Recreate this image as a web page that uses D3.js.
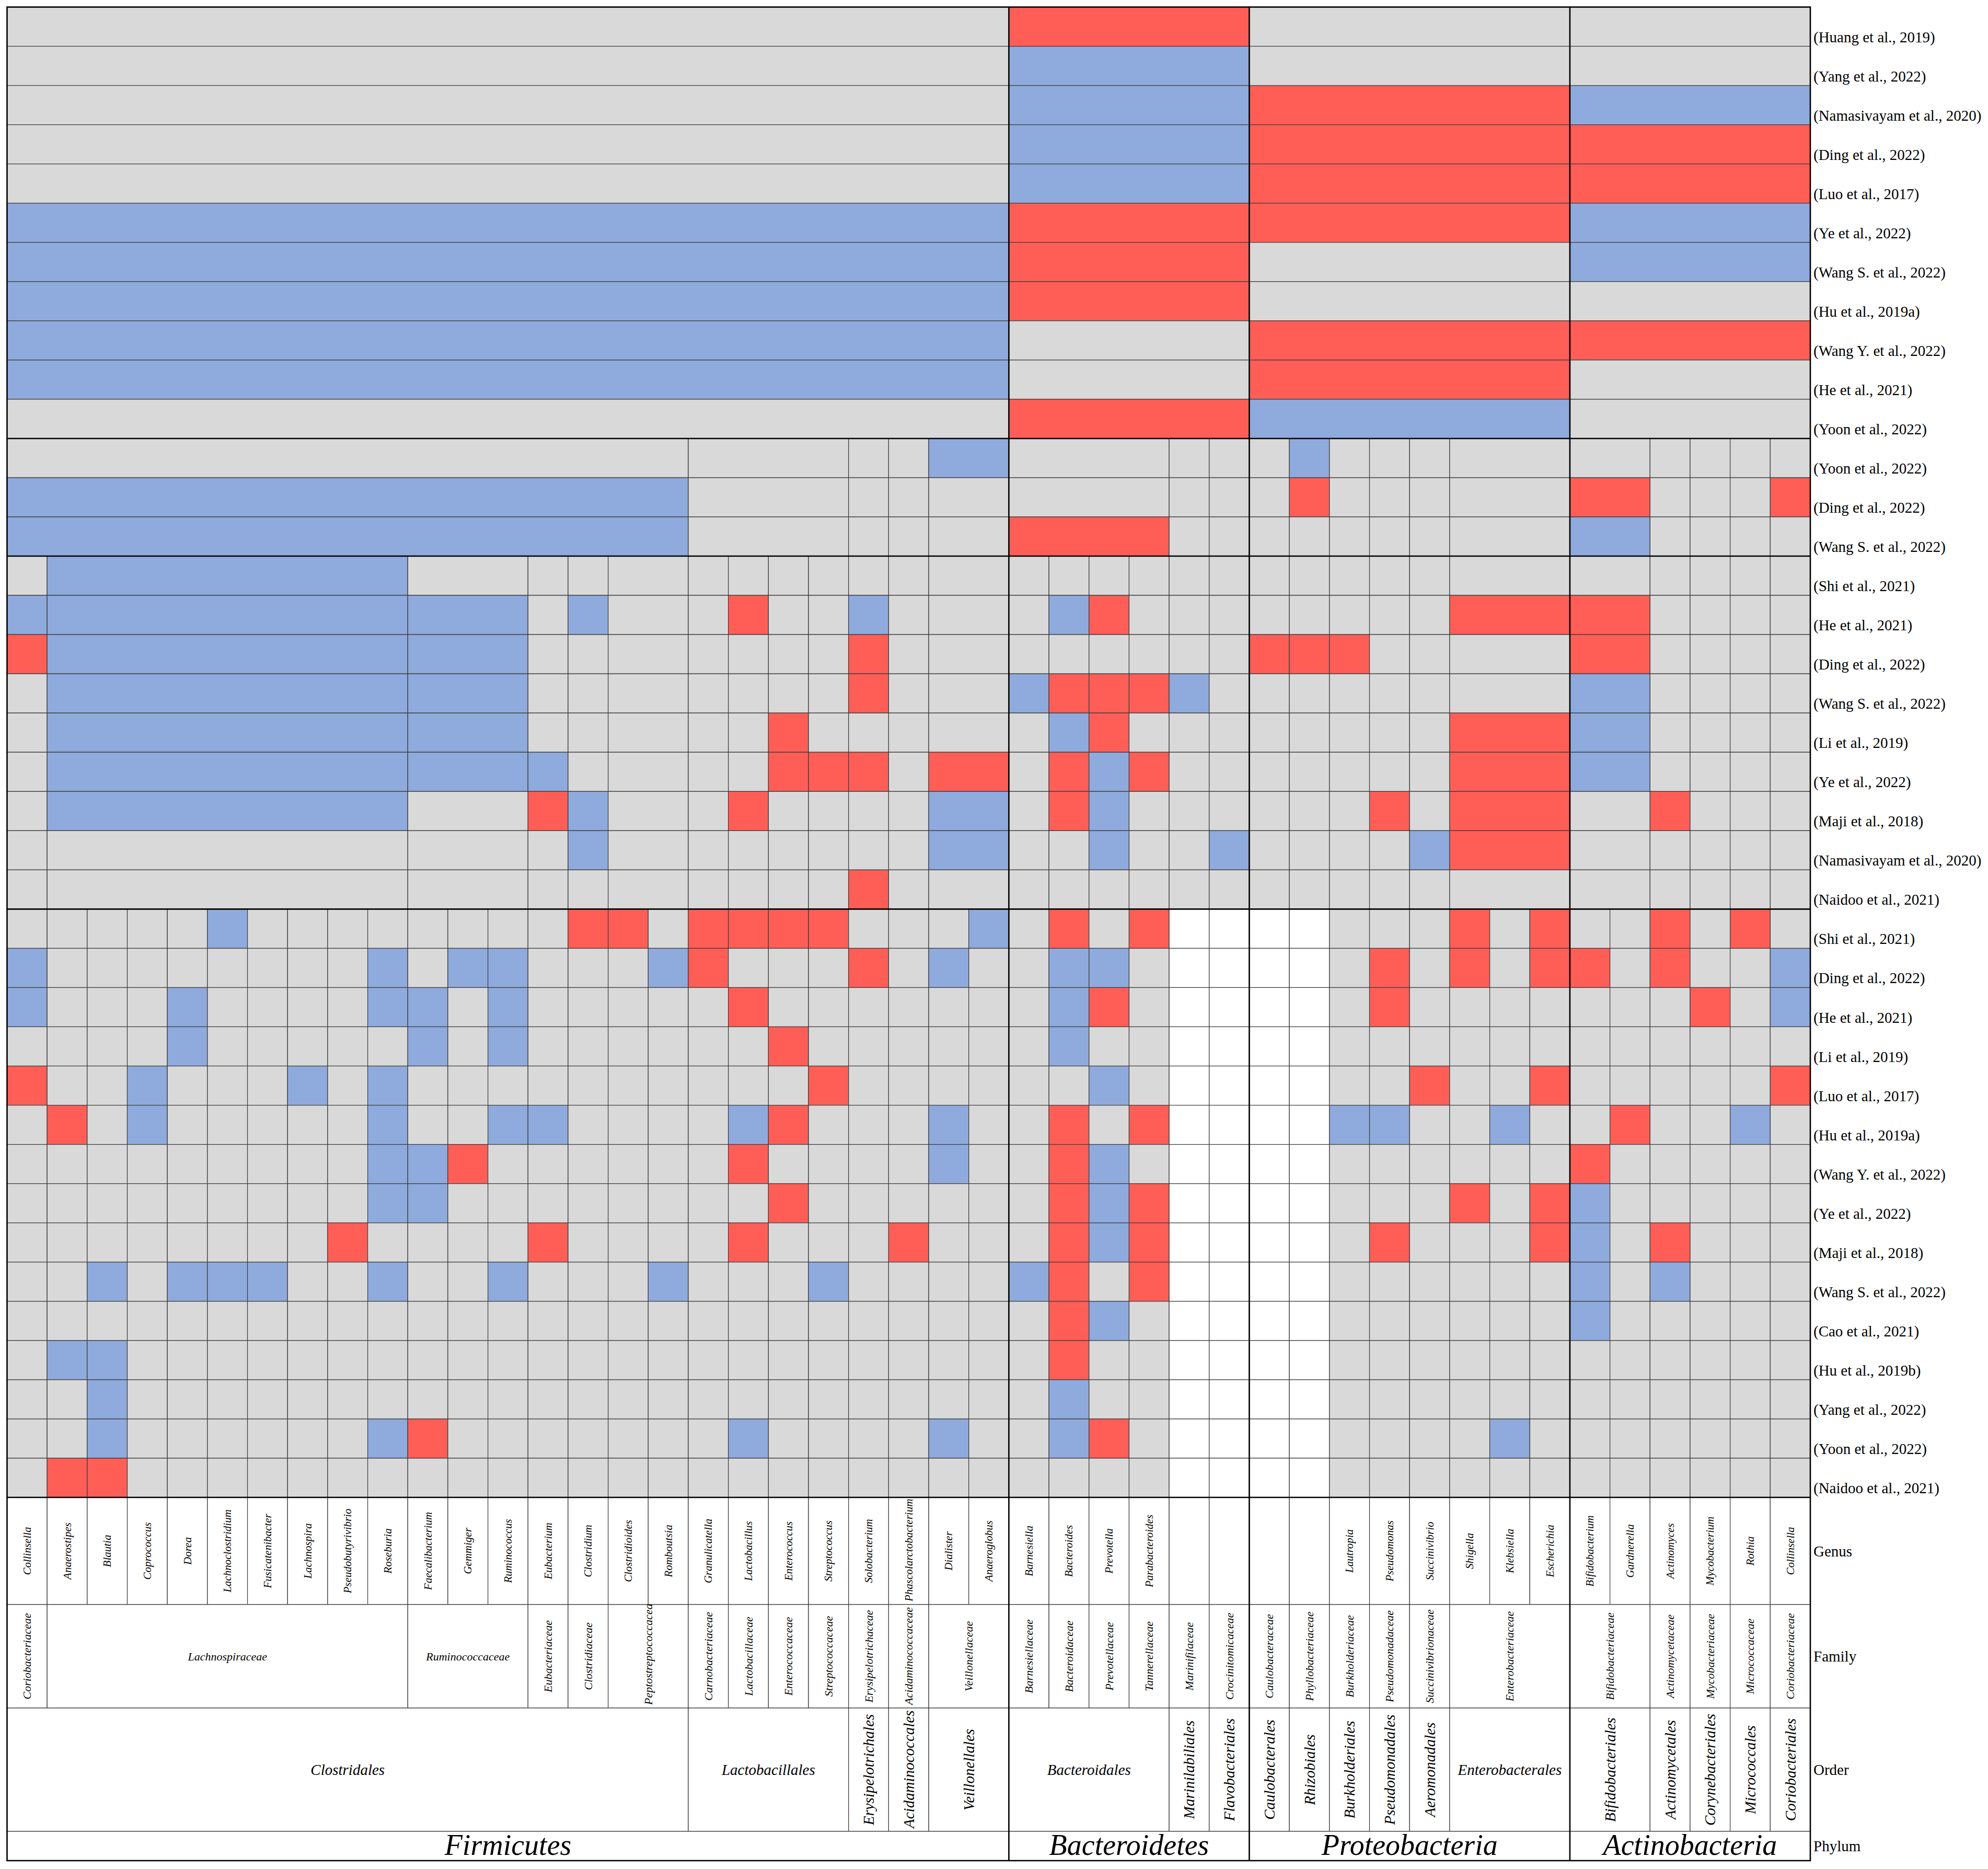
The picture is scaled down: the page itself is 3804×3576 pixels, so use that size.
<!DOCTYPE html>
<html>
<head>
<meta charset="utf-8">
<script src="https://cdn.jsdelivr.net/npm/d3@7"></script>
<style>
body { margin: 0; background: #ffffff; }
text { font-family: "Liberation Serif", "Times New Roman", serif; fill: #000; }
</style>
</head>
<body>
<svg id="chart"></svg>
<script>
// taxonomy, one entry per group, span = number of genus columns it covers
var phylumNames = ["Firmicutes", "Bacteroidetes", "Proteobacteria", "Actinobacteria"];
var phylumSpan = [25, 6, 8, 6];

var orderNames = ["Clostridales", "Lactobacillales", "Erysipelotrichales", "Acidaminococcales", "Veillonellales",
    "Bacteroidales", "Marinilabiliales", "Flavobacteriales",
    "Caulobacterales", "Rhizobiales", "Burkholderiales", "Pseudomonadales", "Aeromonadales", "Enterobacterales",
    "Bifidobacteriales", "Actinomycetales", "Corynebacteriales", "Micrococcales", "Coriobacteriales"];
var orderSpan = [17, 4, 1, 1, 2, 4, 1, 1, 1, 1, 1, 1, 1, 3, 2, 1, 1, 1, 1];

var familyNames = ["Coriobacteriaceae", "Lachnospiraceae", "Ruminococcaceae", "Eubacteriaceae", "Clostridiaceae",
    "Peptostreptococcaceae", "Carnobacteriaceae", "Lactobacillaceae", "Enterococcaceae", "Streptococcaceae",
    "Erysipelotrichaceae", "Acidaminococcaceae", "Veillonellaceae",
    "Barnesiellaceae", "Bacteroidaceae", "Prevotellaceae", "Tannerellaceae", "Marinifilaceae", "Crocinitomicaceae",
    "Caulobacteraceae", "Phyllobacteriaceae", "Burkholderiaceae", "Pseudomonadaceae", "Succinivibrionaceae", "Enterobacteriaceae",
    "Bifidobacteriaceae", "Actinomycetaceae", "Mycobacteriaceae", "Micrococcaceae", "Coriobacteriaceae"];
var familySpan = [1, 9, 3, 1, 1, 2, 1, 1, 1, 1, 1, 1, 2, 1, 1, 1, 1, 1, 1, 1, 1, 1, 1, 1, 3, 2, 1, 1, 1, 1];

var genusNames = ["Collinsella", "Anaerostipes", "Blautia", "Coprococcus", "Dorea", "Lachnoclostridium",
    "Fusicatenibacter", "Lachnospira", "Pseudobutyrivibrio", "Roseburia", "Faecalibacterium", "Gemmiger",
    "Ruminococcus", "Eubacterium", "Clostridium", "Clostridioides", "Romboutsia", "Granulicatella",
    "Lactobacillus", "Enterococcus", "Streptococcus", "Solobacterium", "Phascolarctobacterium", "Dialister",
    "Anaeroglobus", "Barnesiella", "Bacteroides", "Prevotella", "Parabacteroides", "", "", "", "",
    "Lautropia", "Pseudomonas", "Succinivibrio", "Shigella", "Klebsiella", "Escherichia",
    "Bifidobacterium", "Gardnerella", "Actinomyces", "Mycobacterium", "Rothia", "Collinsella"];

// 1 = red, -1 = blue, 0 = grey
var phylumStudies = ["(Huang et al., 2019)", "(Yang et al., 2022)", "(Namasivayam et al., 2020)", "(Ding et al., 2022)",
    "(Luo et al., 2017)", "(Ye et al., 2022)", "(Wang S. et al., 2022)", "(Hu et al., 2019a)",
    "(Wang Y. et al., 2022)", "(He et al., 2021)", "(Yoon et al., 2022)"];
var phylumValues = [
    [0, 1, 0, 0],
    [0, -1, 0, 0],
    [0, -1, 1, -1],
    [0, -1, 1, 1],
    [0, -1, 1, 1],
    [-1, 1, 1, -1],
    [-1, 1, 0, -1],
    [-1, 1, 0, 0],
    [-1, 0, 1, 1],
    [-1, 0, 1, 0],
    [0, 1, -1, 0]
];

var orderStudies = ["(Yoon et al., 2022)", "(Ding et al., 2022)", "(Wang S. et al., 2022)"];
var orderValues = [
    [0, 0, 0, 0, -1, 0, 0, 0, 0, -1, 0, 0, 0, 0, 0, 0, 0, 0, 0],
    [-1, 0, 0, 0, 0, 0, 0, 0, 0, 1, 0, 0, 0, 0, 1, 0, 0, 0, 1],
    [-1, 0, 0, 0, 0, 1, 0, 0, 0, 0, 0, 0, 0, 0, -1, 0, 0, 0, 0]
];

var familyStudies = ["(Shi et al., 2021)", "(He et al., 2021)", "(Ding et al., 2022)", "(Wang S. et al., 2022)",
    "(Li et al., 2019)", "(Ye et al., 2022)", "(Maji et al., 2018)", "(Namasivayam et al., 2020)", "(Naidoo et al., 2021)"];
var familyValues = [
    [0, -1, 0, 0, 0, 0, 0, 0, 0, 0, 0, 0, 0,  0, 0, 0, 0, 0, 0,  0, 0, 0, 0, 0, 0,  0, 0, 0, 0, 0],
    [-1, -1, -1, 0, -1, 0, 0, 1, 0, 0, -1, 0, 0,  0, -1, 1, 0, 0, 0,  0, 0, 0, 0, 0, 1,  1, 0, 0, 0, 0],
    [1, -1, -1, 0, 0, 0, 0, 0, 0, 0, 1, 0, 0,  0, 0, 0, 0, 0, 0,  1, 1, 1, 0, 0, 0,  1, 0, 0, 0, 0],
    [0, -1, -1, 0, 0, 0, 0, 0, 0, 0, 1, 0, 0,  -1, 1, 1, 1, -1, 0,  0, 0, 0, 0, 0, 0,  -1, 0, 0, 0, 0],
    [0, -1, -1, 0, 0, 0, 0, 0, 1, 0, 0, 0, 0,  0, -1, 1, 0, 0, 0,  0, 0, 0, 0, 0, 1,  -1, 0, 0, 0, 0],
    [0, -1, -1, -1, 0, 0, 0, 0, 1, 1, 1, 0, 1,  0, 1, -1, 1, 0, 0,  0, 0, 0, 0, 0, 1,  -1, 0, 0, 0, 0],
    [0, -1, 0, 1, -1, 0, 0, 1, 0, 0, 0, 0, -1,  0, 1, -1, 0, 0, 0,  0, 0, 0, 1, 0, 1,  0, 1, 0, 0, 0],
    [0, 0, 0, 0, -1, 0, 0, 0, 0, 0, 0, 0, -1,  0, 0, -1, 0, 0, -1,  0, 0, 0, 0, -1, 1,  0, 0, 0, 0, 0],
    [0, 0, 0, 0, 0, 0, 0, 0, 0, 0, 1, 0, 0,  0, 0, 0, 0, 0, 0,  0, 0, 0, 0, 0, 0,  0, 0, 0, 0, 0]
];

var genusStudies = ["(Shi et al., 2021)", "(Ding et al., 2022)", "(He et al., 2021)", "(Li et al., 2019)",
    "(Luo et al., 2017)", "(Hu et al., 2019a)", "(Wang Y. et al., 2022)", "(Ye et al., 2022)",
    "(Maji et al., 2018)", "(Wang S. et al., 2022)", "(Cao et al., 2021)", "(Hu et al., 2019b)",
    "(Yang et al., 2022)", "(Yoon et al., 2022)", "(Naidoo et al., 2021)"];
var genusValues = [
    [0,0,0,0,0,-1,0,0,0,0, 0,0,0,0,1,1,0,1,1,1, 1,0,0,0,-1,  0,1,0,1,0,0,  0,0,0,0,0,1,0,1,  0,0,1,0,1,0],
    [-1,0,0,0,0,0,0,0,0,-1, 0,-1,-1,0,0,0,-1,1,0,0, 0,1,0,-1,0,  0,-1,-1,0,0,0,  0,0,0,1,0,1,0,1,  1,0,1,0,0,-1],
    [-1,0,0,0,-1,0,0,0,0,-1, -1,0,-1,0,0,0,0,0,1,0, 0,0,0,0,0,  0,-1,1,0,0,0,  0,0,0,1,0,0,0,0,  0,0,0,1,0,-1],
    [0,0,0,0,-1,0,0,0,0,0, -1,0,-1,0,0,0,0,0,0,1, 0,0,0,0,0,  0,-1,0,0,0,0,  0,0,0,0,0,0,0,0,  0,0,0,0,0,0],
    [1,0,0,-1,0,0,0,-1,0,-1, 0,0,0,0,0,0,0,0,0,0, 1,0,0,0,0,  0,0,-1,0,0,0,  0,0,0,0,1,0,0,1,  0,0,0,0,0,1],
    [0,1,0,-1,0,0,0,0,0,-1, 0,0,-1,-1,0,0,0,0,-1,1, 0,0,0,-1,0,  0,1,0,1,0,0,  0,0,-1,-1,0,0,-1,0,  0,1,0,0,-1,0],
    [0,0,0,0,0,0,0,0,0,-1, -1,1,0,0,0,0,0,0,1,0, 0,0,0,-1,0,  0,1,-1,0,0,0,  0,0,0,0,0,0,0,0,  1,0,0,0,0,0],
    [0,0,0,0,0,0,0,0,0,-1, -1,0,0,0,0,0,0,0,0,1, 0,0,0,0,0,  0,1,-1,1,0,0,  0,0,0,0,0,1,0,1,  -1,0,0,0,0,0],
    [0,0,0,0,0,0,0,0,1,0, 0,0,0,1,0,0,0,0,1,0, 0,0,1,0,0,  0,1,-1,1,0,0,  0,0,0,1,0,0,0,1,  -1,0,1,0,0,0],
    [0,0,-1,0,-1,-1,-1,0,0,-1, 0,0,-1,0,0,0,-1,0,0,0, -1,0,0,0,0,  -1,1,0,1,0,0,  0,0,0,0,0,0,0,0,  -1,0,-1,0,0,0],
    [0,0,0,0,0,0,0,0,0,0, 0,0,0,0,0,0,0,0,0,0, 0,0,0,0,0,  0,1,-1,0,0,0,  0,0,0,0,0,0,0,0,  -1,0,0,0,0,0],
    [0,-1,-1,0,0,0,0,0,0,0, 0,0,0,0,0,0,0,0,0,0, 0,0,0,0,0,  0,1,0,0,0,0,  0,0,0,0,0,0,0,0,  0,0,0,0,0,0],
    [0,0,-1,0,0,0,0,0,0,0, 0,0,0,0,0,0,0,0,0,0, 0,0,0,0,0,  0,-1,0,0,0,0,  0,0,0,0,0,0,0,0,  0,0,0,0,0,0],
    [0,0,-1,0,0,0,0,0,0,-1, 1,0,0,0,0,0,0,0,-1,0, 0,0,0,-1,0,  0,-1,1,0,0,0,  0,0,0,0,0,0,-1,0,  0,0,0,0,0,0],
    [0,1,1,0,0,0,0,0,0,0, 0,0,0,0,0,0,0,0,0,0, 0,0,0,0,0,  0,0,0,0,0,0,  0,0,0,0,0,0,0,0,  0,0,0,0,0,0]
];

var levelNames = ["Genus", "Family", "Order", "Phylum"];

// labels written horizontally instead of rotated
var horizontalLabels = ["Lachnospiraceae", "Ruminococcaceae", "Clostridales", "Lactobacillales", "Bacteroidales", "Enterobacterales"];

var svgWidth = 3804, svgHeight = 3576;
var gridLeft = 13.5, gridRight = 3464, gridTop = 13.5, gridBottom = 2865;
var bandEdges = [2865, 3070, 3268, 3504, 3560]; // genus | family | order | phylum
var fillColor = {"1": "#ff5e57", "-1": "#8faadc", "0": "#d9d9d9"};
var thinLine = "#3a3a3a";

function toGroups(names, span) {
    var start = 0;
    return names.map(function(n, i) {
        var g = {name: n, start: start, end: start + span[i]};
        start += span[i];
        return g;
    });
}

var phylumGroups = toGroups(phylumNames, phylumSpan);
var orderGroups = toGroups(orderNames, orderSpan);
var familyGroups = toGroups(familyNames, familySpan);
var genusGroups = toGroups(genusNames, genusNames.map(function() { return 1; }));

var rows = [];
phylumStudies.forEach(function(s, i) { rows.push({study: s, groups: phylumGroups, values: phylumValues[i], genus: false}); });
orderStudies.forEach(function(s, i) { rows.push({study: s, groups: orderGroups, values: orderValues[i], genus: false}); });
familyStudies.forEach(function(s, i) { rows.push({study: s, groups: familyGroups, values: familyValues[i], genus: false}); });
genusStudies.forEach(function(s, i) { rows.push({study: s, groups: genusGroups, values: genusValues[i], genus: true}); });

var xScale = d3.scaleBand()
    .domain(d3.range(genusNames.length))
    .range([gridLeft, gridRight]);

var yScale = d3.scaleBand()
    .domain(d3.range(rows.length))
    .range([gridTop, gridBottom]);

function gx(g) { return xScale(g.start); }
function gw(g) { return xScale(g.end - 1) + xScale.bandwidth() - xScale(g.start); }

var svg = d3.select("#chart")
    .attr("width", svgWidth)
    .attr("height", svgHeight);

svg.append("rect")
    .attr("width", svgWidth)
    .attr("height", svgHeight)
    .attr("fill", "#ffffff");

// heat cells
var rowG = svg.selectAll("g.row")
    .data(rows)
    .enter()
    .append("g")
    .attr("class", "row");

rowG.selectAll("rect")
    .data(function(r) {
        return r.groups.map(function(g, j) {
            return {g: g, v: r.values[j], blank: r.genus && g.name === ""};
        });
    })
    .enter()
    .append("rect")
    .attr("x", function(d) { return gx(d.g); })
    .attr("y", function(d) { return yScale(rows.indexOf(d3.select(this.parentNode).datum())); })
    .attr("width", function(d) { return gw(d.g); })
    .attr("height", yScale.bandwidth())
    .attr("fill", function(d) { return d.blank ? "#ffffff" : fillColor[String(d.v)]; })
    .attr("stroke", thinLine)
    .attr("stroke-width", 1.2);

rowG.append("text")
    .attr("x", gridRight + 6)
    .attr("y", function(r, i) { return yScale(i) + yScale.bandwidth() - 8; })
    .attr("font-size", 29)
    .text(function(r) { return r.study; });

// taxonomy bands under the grid
var bands = [
    {groups: genusGroups, size: 21},
    {groups: familyGroups, size: 22},
    {groups: orderGroups, size: 29},
    {groups: phylumGroups, size: 56}
];

bands.forEach(function(b, k) {
    var top = bandEdges[k], bottom = bandEdges[k + 1];
    var clipId = "band" + k;
    svg.append("clipPath")
        .attr("id", clipId)
        .append("rect")
        .attr("x", gridLeft)
        .attr("y", top)
        .attr("width", gridRight - gridLeft)
        .attr("height", bottom - top);

    var bg = svg.append("g");
    bg.selectAll("rect")
        .data(b.groups)
        .enter()
        .append("rect")
        .attr("x", gx)
        .attr("y", top)
        .attr("width", gw)
        .attr("height", bottom - top)
        .attr("fill", "#ffffff")
        .attr("stroke", thinLine)
        .attr("stroke-width", 1.2);

    var tg = svg.append("g").attr("clip-path", "url(#" + clipId + ")");
    tg.selectAll("text")
        .data(b.groups.filter(function(g) { return g.name !== ""; }))
        .enter()
        .append("text")
        .attr("font-size", b.size)
        .attr("font-style", "italic")
        .text(function(g) { return g.name; })
        .each(function(g) {
            var t = d3.select(this);
            var cx = gx(g) + gw(g) / 2, cy = (top + bottom) / 2;
            if (k === 3) {
                t.attr("x", cx).attr("y", bottom - 11).attr("text-anchor", "middle");
            } else if (horizontalLabels.indexOf(g.name) >= 0) {
                t.attr("x", cx).attr("y", cy).attr("text-anchor", "middle").attr("dominant-baseline", "central");
            } else {
                t.attr("dominant-baseline", "central");
                var len = this.getComputedTextLength();
                if (len > bottom - top - 14) {
                    t.attr("text-anchor", "start")
                        .attr("transform", "translate(" + cx + "," + (bottom - 6) + ") rotate(-90)");
                } else {
                    t.attr("text-anchor", "middle")
                        .attr("transform", "translate(" + cx + "," + cy + ") rotate(-90)");
                }
            }
        });

    svg.append("text")
        .attr("x", gridRight + 6)
        .attr("y", (top + bottom) / 2)
        .attr("dominant-baseline", "central")
        .attr("font-size", 29)
        .text(levelNames[k]);
});

// heavy rules: level breaks, phylum breaks, frame
var levelBreaks = [phylumStudies.length, phylumStudies.length + orderStudies.length,
    phylumStudies.length + orderStudies.length + familyStudies.length];

svg.selectAll("line.level")
    .data(levelBreaks)
    .enter()
    .append("line")
    .attr("x1", gridLeft)
    .attr("x2", gridRight)
    .attr("y1", function(d) { return yScale(d); })
    .attr("y2", function(d) { return yScale(d); })
    .attr("stroke", "#000")
    .attr("stroke-width", 2.6);

svg.append("line")
    .attr("x1", gridLeft)
    .attr("x2", gridRight)
    .attr("y1", gridBottom)
    .attr("y2", gridBottom)
    .attr("stroke", "#000")
    .attr("stroke-width", 2.6);

svg.selectAll("line.phylum")
    .data(phylumGroups.slice(1))
    .enter()
    .append("line")
    .attr("x1", gx)
    .attr("x2", gx)
    .attr("y1", gridTop)
    .attr("y2", bandEdges[bandEdges.length - 1])
    .attr("stroke", "#000")
    .attr("stroke-width", 2.6);

svg.append("rect")
    .attr("x", gridLeft)
    .attr("y", gridTop)
    .attr("width", gridRight - gridLeft)
    .attr("height", bandEdges[bandEdges.length - 1] - gridTop)
    .attr("fill", "none")
    .attr("stroke", "#000")
    .attr("stroke-width", 2.6);
</script>
</body>
</html>
